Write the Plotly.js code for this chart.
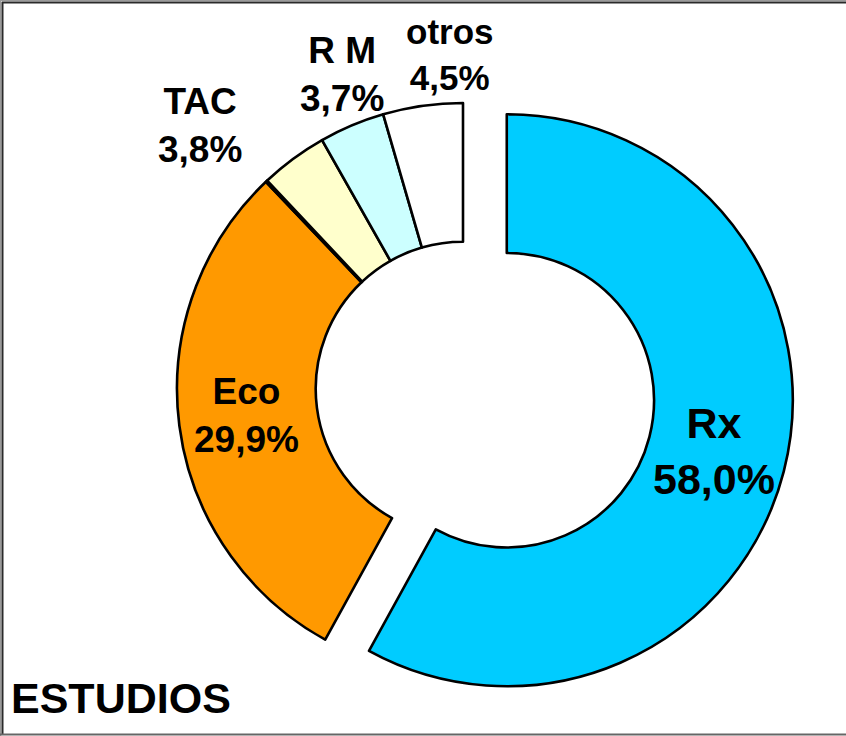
<!DOCTYPE html>
<html>
<head>
<meta charset="utf-8">
<script src="https://cdn.plot.ly/plotly-3.0.1.min.js"></script>
<style>
html,body{margin:0;padding:0;background:#fff;}
#chart{width:846px;height:736px;}
</style>
</head>
<body>
<div id="chart"></div>
<script>
// Data
var labels = ['Rx', 'Eco', '', 'TAC', 'R M', 'otros'];
var values = [58.0, 29.9, 0.1, 3.8, 3.7, 4.5];
var colors = ['#00CCFF', '#FF9900', '#FFFFFF', '#FFFFCC', '#CCFFFF', '#FFFFFF'];
var pulls = [0.158, 0, 0, 0, 0, 0];
var chartTitle = 'ESTUDIOS';

function fmt(v) { return v.toFixed(1).replace('.', ',') + '%'; }

var W = 846, H = 736;
// pie geometry (pixels)
var cx = 463, cy = 389, r = 286, maxPull = 0.158;
var half = r * (1 + maxPull);
var dom = {
  x: [(cx - half) / W, (cx + half) / W],
  y: [(H - cy - half) / H, (H - cy + half) / H]
};

var trace = {
  type: 'pie',
  labels: labels.map(function(l, i){ return l || ('_' + i); }),
  values: values,
  sort: false,
  direction: 'clockwise',
  rotation: 0,
  hole: 0.515,
  pull: pulls,
  textinfo: 'none',
  hoverinfo: 'none',
  marker: { colors: colors, line: { color: '#000000', width: 2.6 } },
  domain: dom,
  showlegend: false
};

// label placements (pixel centers), by slice index
var labelPos = {
  0: { x: 714, y: 451, size: 43 },
  1: { x: 247, y: 415, size: 37 },
  3: { x: 200, y: 125, size: 37 },
  4: { x: 342, y: 75, size: 37 },
  5: { x: 450, y: 54, size: 35 }
};

var annotations = [];
labels.forEach(function(l, i) {
  var p = labelPos[i];
  if (!p || !l) return;
  annotations.push({
    xref: 'paper', yref: 'paper',
    x: p.x / W, y: 1 - p.y / H,
    xanchor: 'center', yanchor: 'middle',
    showarrow: false,
    text: '<b>' + l + '</b><br><b>' + fmt(values[i]) + '</b>',
    font: { family: 'Liberation Sans, Arial, sans-serif', size: p.size, color: '#000' },
    align: 'center'
  });
});
annotations.push({
  xref: 'paper', yref: 'paper',
  x: 9 / W, y: 1 - 698 / H,
  xanchor: 'left', yanchor: 'middle',
  showarrow: false,
  text: '<b>' + chartTitle + '</b>',
  font: { family: 'Liberation Sans, Arial, sans-serif', size: 43, color: '#000' }
});

var shapes = [
  { type: 'line', xref: 'paper', yref: 'paper', x0: 0, x1: 1, y0: 1 - 0.5 / H, y1: 1 - 0.5 / H, line: { color: '#9a9a9a', width: 1.5 }, layer: 'above' },
  { type: 'line', xref: 'paper', yref: 'paper', x0: 2 / W, x1: 1, y0: 1 - 2.5 / H, y1: 1 - 2.5 / H, line: { color: '#2a2a2a', width: 2 }, layer: 'above' },
  { type: 'line', xref: 'paper', yref: 'paper', x0: 0.5 / W, x1: 0.5 / W, y0: 0, y1: 1, line: { color: '#9a9a9a', width: 1.5 }, layer: 'above' },
  { type: 'line', xref: 'paper', yref: 'paper', x0: 2.5 / W, x1: 2.5 / W, y0: 1 / H, y1: 1 - 2 / H, line: { color: '#2a2a2a', width: 2 }, layer: 'above' },
  { type: 'line', xref: 'paper', yref: 'paper', x0: 0, x1: 1, y0: 1.5 / H, y1: 1.5 / H, line: { color: '#666666', width: 2 }, layer: 'above' }
];

var layout = {
  width: W, height: H,
  margin: { l: 0, r: 0, t: 0, b: 0, pad: 0 },
  paper_bgcolor: '#ffffff',
  plot_bgcolor: '#ffffff',
  showlegend: false,
  annotations: annotations,
  shapes: shapes
};

Plotly.newPlot('chart', [trace], layout, { staticPlot: true, displayModeBar: false });
</script>
</body>
</html>
